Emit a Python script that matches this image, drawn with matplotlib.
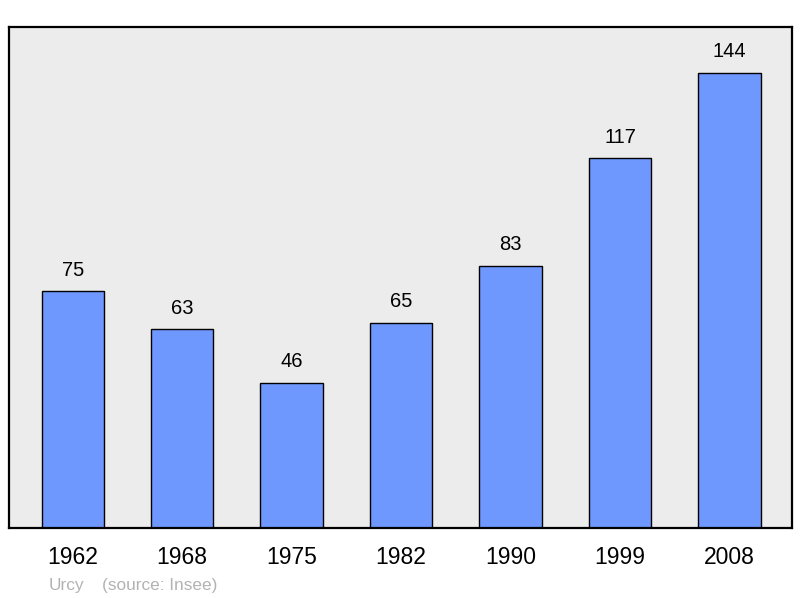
import matplotlib.pyplot as plt

plt.rcParams['font.family'] = ['Liberation Sans', 'DejaVu Sans']

years = ["1962", "1968", "1975", "1982", "1990", "1999", "2008"]
population = [75, 63, 46, 65, 83, 117, 144]

fig = plt.figure(figsize=(8, 5.98), dpi=100)
ax = fig.add_axes([0.011, 0.117, 0.979, 0.838])
ax.set_facecolor("#ececec")

x = range(len(years))
ax.bar(x, population, width=0.57, color="#6f98ff", edgecolor="black", linewidth=1, zorder=2)

for i, v in enumerate(population):
    ax.annotate(str(v), (i, v), xytext=(0, 15), textcoords="offset points",
                ha="center", va="center", fontsize=14.5)

ax.set_xlim(-0.585, 6.572)
ax.set_ylim(0, 158.5)
ax.set_xticks(list(x))
ax.set_xticklabels(years, fontsize=16.5)
ax.tick_params(axis="x", length=0, pad=13)
ax.set_yticks([])
for s in ax.spines.values():
    s.set_linewidth(1.6)

fig.text(0.061, 0.014, "Urcy", color="#b3b3b3", fontsize=12.4)
fig.text(0.128, 0.014, "(source: Insee)", color="#b3b3b3", fontsize=12.4)

fig.savefig("out.png", dpi=100)
